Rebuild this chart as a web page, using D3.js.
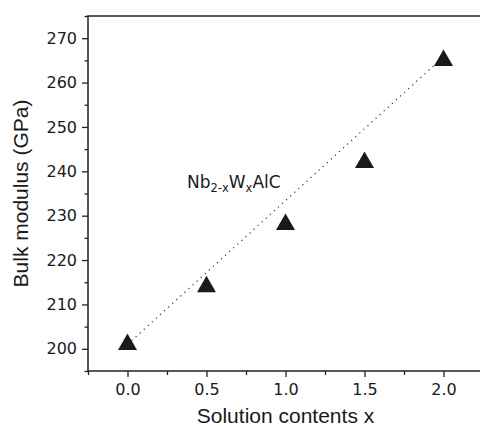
<!DOCTYPE html>
<html>
<head>
<meta charset="utf-8">
<script src="https://cdn.jsdelivr.net/npm/d3@7"></script>
<style>
  body { margin: 0; background: #fff; }
  svg { display: block; }
</style>
</head>
<body>
<svg width="480" height="426"></svg>
<script>
// data
const solutionX = [0.0, 0.5, 1.0, 1.5, 2.0];
const bulkModulus = [201, 214, 228, 242, 265];
// dotted guide line (end points)
const guideX = [0.0, 2.0];
const guideY = [201, 265.8];

const xTicks = [0.0, 0.5, 1.0, 1.5, 2.0];
const xMinor = [-0.25, 0.25, 0.75, 1.25, 1.75, 2.25];
const yTicks = [200, 210, 220, 230, 240, 250, 260, 270];
const yMinor = [195, 205, 215, 225, 235, 245, 255, 265, 275];

const axisColor = "#222";
const markColor = "#1a1a1a";
const tickFont = "'DejaVu Sans', sans-serif";
const titleFont = "'Liberation Sans', Arial, sans-serif";

// svg setup
const svg = d3.select("svg");
const margin = { left: 88, top: 16, right: 483, bottom: 371 };

const x = d3.scaleLinear().domain([-0.25, 2.25]).range([margin.left, margin.right]);
const y = d3.scaleLinear().domain([195, 275]).range([margin.bottom, margin.top]);

// frame (right side falls outside the window)
svg.append("rect")
    .attr("x", margin.left)
    .attr("y", margin.top)
    .attr("width", margin.right - margin.left)
    .attr("height", margin.bottom - margin.top)
    .attr("fill", "none")
    .attr("stroke", axisColor)
    .attr("stroke-width", 1.5);

// bottom axis
const xAxis = svg.append("g")
    .attr("transform", `translate(0,${margin.bottom})`)
    .call(d3.axisBottom(x).tickValues(xTicks).tickFormat(d3.format(".1f")).tickSize(6).tickPadding(7));
svg.append("g")
    .attr("transform", `translate(0,${margin.bottom})`)
    .call(d3.axisBottom(x).tickValues(xMinor).tickFormat("").tickSize(4));

// left axis
const yAxis = svg.append("g")
    .attr("transform", `translate(${margin.left},0)`)
    .call(d3.axisLeft(y).tickValues(yTicks).tickSize(6).tickPadding(5));
svg.append("g")
    .attr("transform", `translate(${margin.left},0)`)
    .call(d3.axisLeft(y).tickValues(yMinor).tickFormat("").tickSize(3.5));

svg.selectAll(".domain").remove();
svg.selectAll(".tick line").attr("stroke", axisColor).attr("stroke-width", 1.3);
svg.selectAll(".tick text")
    .attr("fill", "#1a1a1a")
    .attr("font-family", tickFont)
    .attr("font-size", 16);

// dotted guide
svg.append("line")
    .attr("x1", x(guideX[0]))
    .attr("y1", y(guideY[0]))
    .attr("x2", x(guideX[1]))
    .attr("y2", y(guideY[1]))
    .attr("stroke", "#333")
    .attr("stroke-width", 1.2)
    .attr("stroke-dasharray", "1.2,4.3");

// triangles, centred on the centroid
const triW = 19, triH = 16.5;
svg.append("g")
    .selectAll("path")
    .data(solutionX.map((d, i) => [d, bulkModulus[i]]))
    .join("path")
    .attr("transform", d => `translate(${x(d[0])},${y(d[1])})`)
    .attr("d", `M0,${-triH * 2 / 3}L${triW / 2},${triH / 3}L${-triW / 2},${triH / 3}Z`)
    .attr("fill", markColor);

// compound label
const label = svg.append("text")
    .attr("x", 187)
    .attr("y", 188)
    .attr("font-family", tickFont)
    .attr("font-size", 17)
    .attr("fill", "#1a1a1a");
label.append("tspan").text("Nb");
label.append("tspan").text("2-x").attr("font-size", 11.5).attr("dy", 4);
label.append("tspan").text("W").attr("dy", -4);
label.append("tspan").text("x").attr("font-size", 11.5).attr("dy", 4);
label.append("tspan").text("AlC").attr("dy", -4);

// axis titles
svg.append("text")
    .attr("x", (margin.left + margin.right) / 2)
    .attr("y", 423)
    .attr("text-anchor", "middle")
    .attr("font-family", titleFont)
    .attr("font-size", 21)
    .attr("fill", "#1a1a1a")
    .text("Solution contents x");

svg.append("text")
    .attr("transform", `translate(28,${(margin.top + margin.bottom) / 2}) rotate(-90)`)
    .attr("text-anchor", "middle")
    .attr("font-family", titleFont)
    .attr("font-size", 21)
    .attr("fill", "#1a1a1a")
    .text("Bulk modulus (GPa)");
</script>
</body>
</html>
